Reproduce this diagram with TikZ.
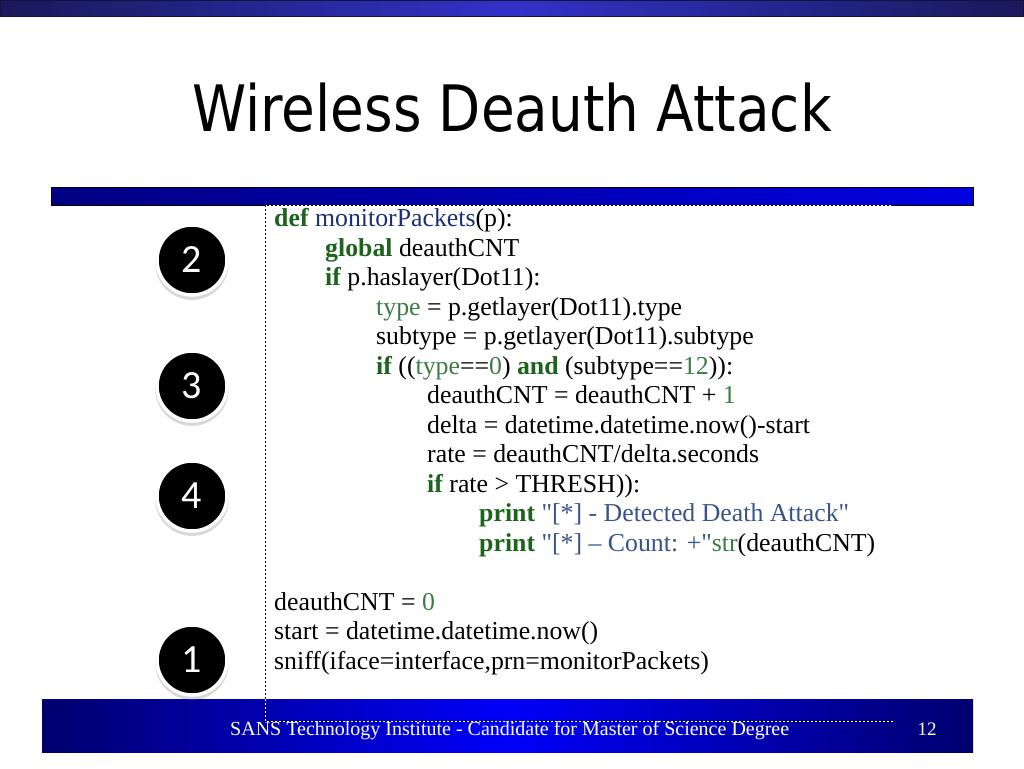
\documentclass[tikz,border=0pt]{standalone}
\usepackage{fontspec}
\setmainfont{Liberation Serif}[Ligatures=TeXOff]
\newfontfamily\titlefont[FakeStretch=0.856]{DejaVu Sans}
\newfontfamily\numfont{Carlito}
\usetikzlibrary{shadows}
\definecolor{kwgreen}{RGB}{28,100,28}
\definecolor{lgreen}{RGB}{60,125,70}
\definecolor{strblue}{RGB}{55,85,140}
\definecolor{fnnavy}{RGB}{28,50,110}
\definecolor{topdark}{RGB}{25,25,90}
\definecolor{topmid}{RGB}{50,50,200}
\definecolor{bardark}{RGB}{0,0,130}
\definecolor{barblue}{RGB}{0,0,225}
\definecolor{footdark}{RGB}{0,0,110}
\definecolor{footmid}{RGB}{0,0,250}
\newcommand\codesize{\fontsize{25.8}{30}\selectfont}
\newcommand\cKw[1]{\textbf{\textcolor{kwgreen}{#1}}}
\newcommand\cGr[1]{\textcolor{lgreen}{#1}}
\newcommand\cSt[1]{\textcolor{strblue}{#1}}
\newcommand\cFn[1]{\textcolor{fnnavy}{#1}}
\begin{document}
\begin{tikzpicture}[x=1pt,y=-1pt,
  codeline/.style={anchor=base west, inner sep=0pt, font=\codesize},
  numcirc/.style={circle, fill=black, draw=white, line width=3.5pt, minimum size=70pt, inner sep=0pt,
     text=white, font=\numfont\fontsize{40}{40}\selectfont,
     drop shadow={opacity=0.3, shadow xshift=0pt, shadow yshift=-3pt, shadow scale=1.05}},
  dashline/.style={line width=1pt, dash pattern=on 2pt off 2pt}]
\useasboundingbox (0,0) rectangle (1024,768);
\fill[white] (0,0) rectangle (1024,768);
% top bar
\shade[left color=topdark, right color=topdark, middle color=topmid] (0,0) rectangle (1024,17);
\draw[topdark!70!black, line width=1pt] (0.5,0.5) rectangle (1023.5,16.5);
% title
\node[inner sep=0pt, anchor=base, font=\titlefont\fontsize{64}{64}\selectfont] (title) at (512,131) {Wireless Deauth Attack};
% bar under title
\shade[left color=bardark, right color=barblue] (51,187) rectangle (973,205);
\draw[black, line width=0.8pt] (51,187) rectangle (973,205);
% footer bar
\shade[left color=footdark, right color=footdark, middle color=footmid] (42,699) rectangle (973,752);
% dashed frame
\coordinate (ftl) at (265,205);
\coordinate (ftr) at (893,205);
\coordinate (fbl) at (265,721);
\coordinate (fbr) at (893,721);
\draw[white, line width=1pt] (ftr) -- (ftl) -- (fbl) -- (fbr);
\draw[black, dashline] (ftr) -- (ftl) -- (fbl) -- (fbr);
% circles
\node[numcirc] (n2) at (192,260) {2};
\node[numcirc] (n3) at (192,386) {3};
\node[numcirc] (n4) at (192,496) {4};
\node[numcirc] (n1) at (192,660) {1};
% code
\node[codeline] (l1) at (274,226.5) {\cKw{def} \cFn{monitorPackets}(p):};
\node[codeline] (l2) at (325,256) {\cKw{global} deauthCNT};
\node[codeline] (l3) at (325,285.5) {\cKw{if} p.haslayer(Dot11):};
\node[codeline] (l4) at (376,315) {\cGr{type} = p.getlayer(Dot11).type};
\node[codeline] (l5) at (376,344.5) {subtype = p.getlayer(Dot11).subtype};
\node[codeline] (l6) at (376,374) {\cKw{if} ((\cGr{type}==\cGr{0}) \cKw{and} (subtype==\cGr{12})):};
\node[codeline] (l7) at (427,403.5) {deauthCNT = deauthCNT + \cGr{1}};
\node[codeline] (l8) at (427,433) {delta = datetime.datetime.now()-start};
\node[codeline] (l9) at (427,462.5) {rate = deauthCNT/delta.seconds};
\node[codeline] (l10) at (427,492) {\cKw{if} rate > THRESH)):};
\node[codeline] (l11) at (479,521.5) {\cKw{print} \cSt{"[*] - Detected Death Attack"}};
\node[codeline] (l12) at (479,551) {\cKw{print} \cSt{"[*] – Count: +"}\cGr{str}(deauthCNT)};
\node[codeline] (l13) at (274,610) {deauthCNT = \cGr{0}};
\node[codeline] (l14) at (274,639.5) {start = datetime.datetime.now()};
\node[codeline] (l15) at (274,669) {sniff(iface=interface,prn=monitorPackets)};
% footer text
\node[anchor=base west, inner sep=0pt, text=white, font=\fontsize{20}{20}\selectfont] (foot) at (230,735) {SANS Technology Institute - Candidate for Master of Science Degree};
\node[anchor=base, inner sep=0pt, text=white, font=\fontsize{19}{19}\selectfont] (page) at (927,735) {12};
\end{tikzpicture}
\end{document}
